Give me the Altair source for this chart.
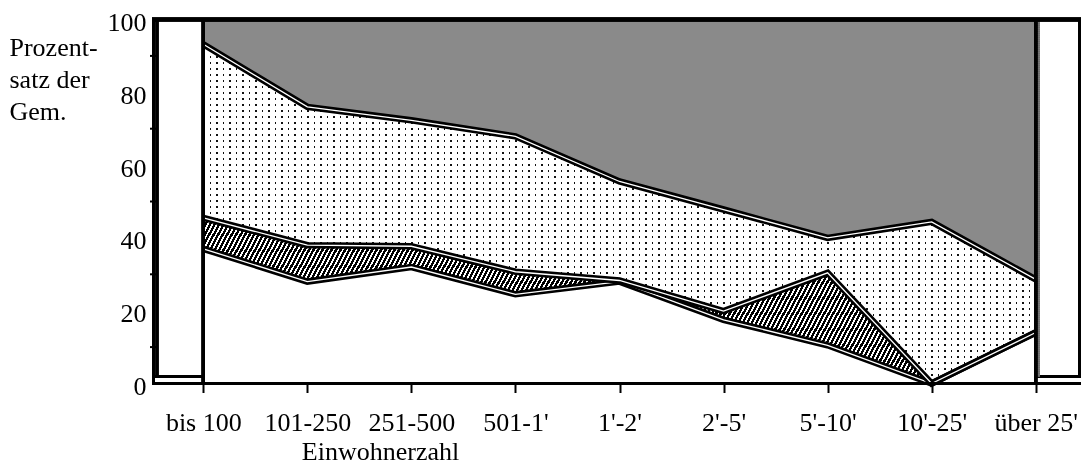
import math
import altair as alt
import pandas as pd

# ---- data ----
categories = ["bis 100", "101-250", "251-500", "501-1'", "1'-2'",
              "2'-5'", "5'-10'", "10'-25'", "über 25'"]
weiss = [37.0, 28.0, 32.0, 24.5, 28.0, 17.5, 10.5, 0.0, 14.0]
schraffiert = [8.5, 10.0, 5.7, 6.2, 0.3, 2.4, 19.9, 0.0, 0.0]
punktiert = [47.7, 38.0, 34.6, 37.2, 27.2, 27.9, 9.6, 44.4, 14.6]
grau = [6.8, 24.0, 27.7, 32.1, 44.5, 52.2, 60.0, 55.6, 71.4]
y_ticks = [0, 20, 40, 60, 80, 100]
minor_ticks = [10, 30, 50, 70, 90]
y_title = ["Prozent-", "satz der", "Gem."]
x_title = "Einwohnerzahl"

# ---- table (cumulative boundaries of the stacked areas) ----
c1 = [a for a in weiss]
c2 = [a + b for a, b in zip(c1, schraffiert)]
c3 = [a + b for a, b in zip(c2, punktiert)]
c4 = [a + b for a, b in zip(c3, grau)]
df = pd.DataFrame({"cat": categories, "c0": [0.0] * len(categories),
                   "c1": c1, "c2": c2, "c3": c3, "c4": c4})
minor_df = pd.DataFrame({"v": minor_ticks})

FONT = "Liberation Serif"
FS = 26
W_PLOT, H_PLOT = 927, 364
X_RANGE = [49.3, 881.7]
W_AREA = X_RANGE[1] - X_RANGE[0]
px_per_unit = H_PLOT / 100.0


def stripes(period, dark, c_dark, c_light):
    stops = []
    t = 0.0
    while t < 1.0:
        a = round(t, 6)
        b = round(min(t + dark, 1.0), 6)
        c = round(min(t + period, 1.0), 6)
        stops += [{"offset": a, "color": c_dark}, {"offset": b, "color": c_dark},
                  {"offset": b, "color": c_light}, {"offset": c, "color": c_light}]
        t += period
    return stops


# diagonal hatch for the second layer
H_h = (max(c2) - min(c1)) * px_per_unit
k = H_h / (math.tan(math.radians(62)) * W_AREA)
s = (1 + k) / (1 + k * k)
t_per_px = 1.0 / (W_AREA * s * (1 + k * k))
hatch = {"gradient": "linear", "x1": 0, "y1": 0, "x2": s, "y2": s * k,
         "stops": stripes(4.5 * t_per_px, 2.6 * t_per_px, "#000000", "#ffffff")}

# dotted texture for the third layer (vertical stripes lightened by horizontal ones)
H_d = (max(c3) - min(c2)) * px_per_unit
vstripes = {"gradient": "linear", "x1": 0, "y1": 0, "x2": 1, "y2": 0,
            "stops": stripes(6.5 / W_AREA, 1.4 / W_AREA, "#111111", "#ffffff")}
hstripes = {"gradient": "linear", "x1": 0, "y1": 0, "x2": 0, "y2": 1,
            "stops": stripes(6.0 / H_d, 2.2 / H_d, "#111111", "#ffffff")}

x_axis = alt.Axis(title=x_title, labelFont=FONT, labelFontSize=FS, labelColor="black",
                  labelAngle=0, labelBaseline="alphabetic", labelPadding=38,
                  ticks=True, tickSize=9, tickWidth=2, tickColor="black",
                  domain=False, grid=False,
                  titleFont=FONT, titleFontSize=FS, titleFontWeight="normal",
                  titleColor="black", titleX=226, titleY=76, titleAlign="center",
                  titleBaseline="alphabetic")
y_axis = alt.Axis(values=y_ticks, title=y_title, titleAngle=0, titleAlign="left",
                  titleBaseline="alphabetic", titleX=-145, titleY=35.5, titleLineHeight=32,
                  titleFont=FONT, titleFontSize=FS, titleFontWeight="normal", titleColor="black",
                  labelFont=FONT, labelFontSize=FS, labelColor="black",
                  labelBaseline="alphabetic", labelOffset=11, labelPadding=8,
                  ticks=False, domain=False, grid=True, gridColor="#6e6e6e",
                  gridWidth=2, gridDash=[1, 1])

xs = alt.Scale(type="point", range=X_RANGE, padding=0)
ys = alt.Scale(domain=[0, 100], nice=False, zero=True)

base = alt.Chart(df)


def X():
    return alt.X("cat:O", sort=categories, scale=xs)


def Y(col):
    return alt.Y(f"{col}:Q", scale=ys)


def area(lo, hi, **kw):
    return base.mark_area(**kw).encode(x=X(), y=Y(lo), y2=f"{hi}:Q")


# axes carrier (invisible)
axes = base.mark_line(opacity=0).encode(
    x=alt.X("cat:O", sort=categories, scale=xs, axis=x_axis),
    y=alt.Y("c0:Q", scale=ys, axis=y_axis))

box_bottom = base.mark_rule(color="black", strokeWidth=2.5).encode(
    y=alt.datum(2), x=alt.value(0), x2=alt.value(W_PLOT))
box_left = base.mark_rule(color="black", strokeWidth=2.5).encode(
    x=alt.value(3), y=alt.datum(2), y2=alt.datum(100))

a_white = area("c0", "c1", fill="white")
a_hatch = area("c1", "c2", fill=hatch)
a_dot1 = area("c2", "c3", fill=vstripes)
a_dot2 = area("c2", "c3", fill=hstripes, blend="lighten")
a_gray = area("c3", "c4", fill="#8a8a8a")

lines = []
for col in ["c1", "c2", "c3"]:
    lines.append(base.mark_line(color="black", strokeWidth=6.5).encode(x=X(), y=Y(col)))
    lines.append(base.mark_line(color="white", strokeWidth=1.3).encode(x=X(), y=Y(col)))

edge_first = base.mark_rule(color="black", strokeWidth=3).encode(
    x=alt.datum(categories[0]), y=alt.datum(0), y2=alt.datum(100))
edge_last_gray = base.mark_rule(color="#6e6e6e", strokeWidth=2.5, strokeDash=[1, 1], xOffset=3).encode(
    x=alt.datum(categories[-1]), y=alt.datum(2), y2=alt.datum(100))
edge_last = base.mark_rule(color="black", strokeWidth=3).encode(
    x=alt.datum(categories[-1]), y=alt.datum(0), y2=alt.datum(100))

frame_top = base.mark_rule(color="black", strokeWidth=3.5).encode(
    y=alt.datum(100), x=alt.value(-2), x2=alt.value(W_PLOT))
frame_bottom = base.mark_rule(color="black", strokeWidth=3).encode(
    y=alt.datum(0), x=alt.value(-2), x2=alt.value(W_PLOT))
frame_left = base.mark_rule(color="black", strokeWidth=3).encode(
    x=alt.value(-0.5), y=alt.datum(0), y2=alt.datum(100))
frame_right = base.mark_rule(color="black", strokeWidth=3).encode(
    x=alt.value(W_PLOT - 1.5), y=alt.datum(2), y2=alt.datum(100))
minor = alt.Chart(minor_df).mark_rule(color="black", strokeWidth=2).encode(
    y=alt.Y("v:Q", scale=ys), x=alt.value(-4), x2=alt.value(3))

chart = alt.layer(
    axes, box_bottom, box_left, a_white, a_hatch, a_dot1, a_dot2, a_gray,
    *lines, edge_first, edge_last_gray, edge_last,
    frame_top, frame_bottom, frame_left, frame_right, minor
).properties(
    width=W_PLOT, height=H_PLOT,
    autosize=alt.AutoSizeParams(type="none"),
    padding={"left": 146, "top": 11.5, "right": 0, "bottom": 82.5},
    background="white",
).configure_view(stroke=None)

chart.save("out.html", embed_options={"renderer": "svg", "actions": False})
